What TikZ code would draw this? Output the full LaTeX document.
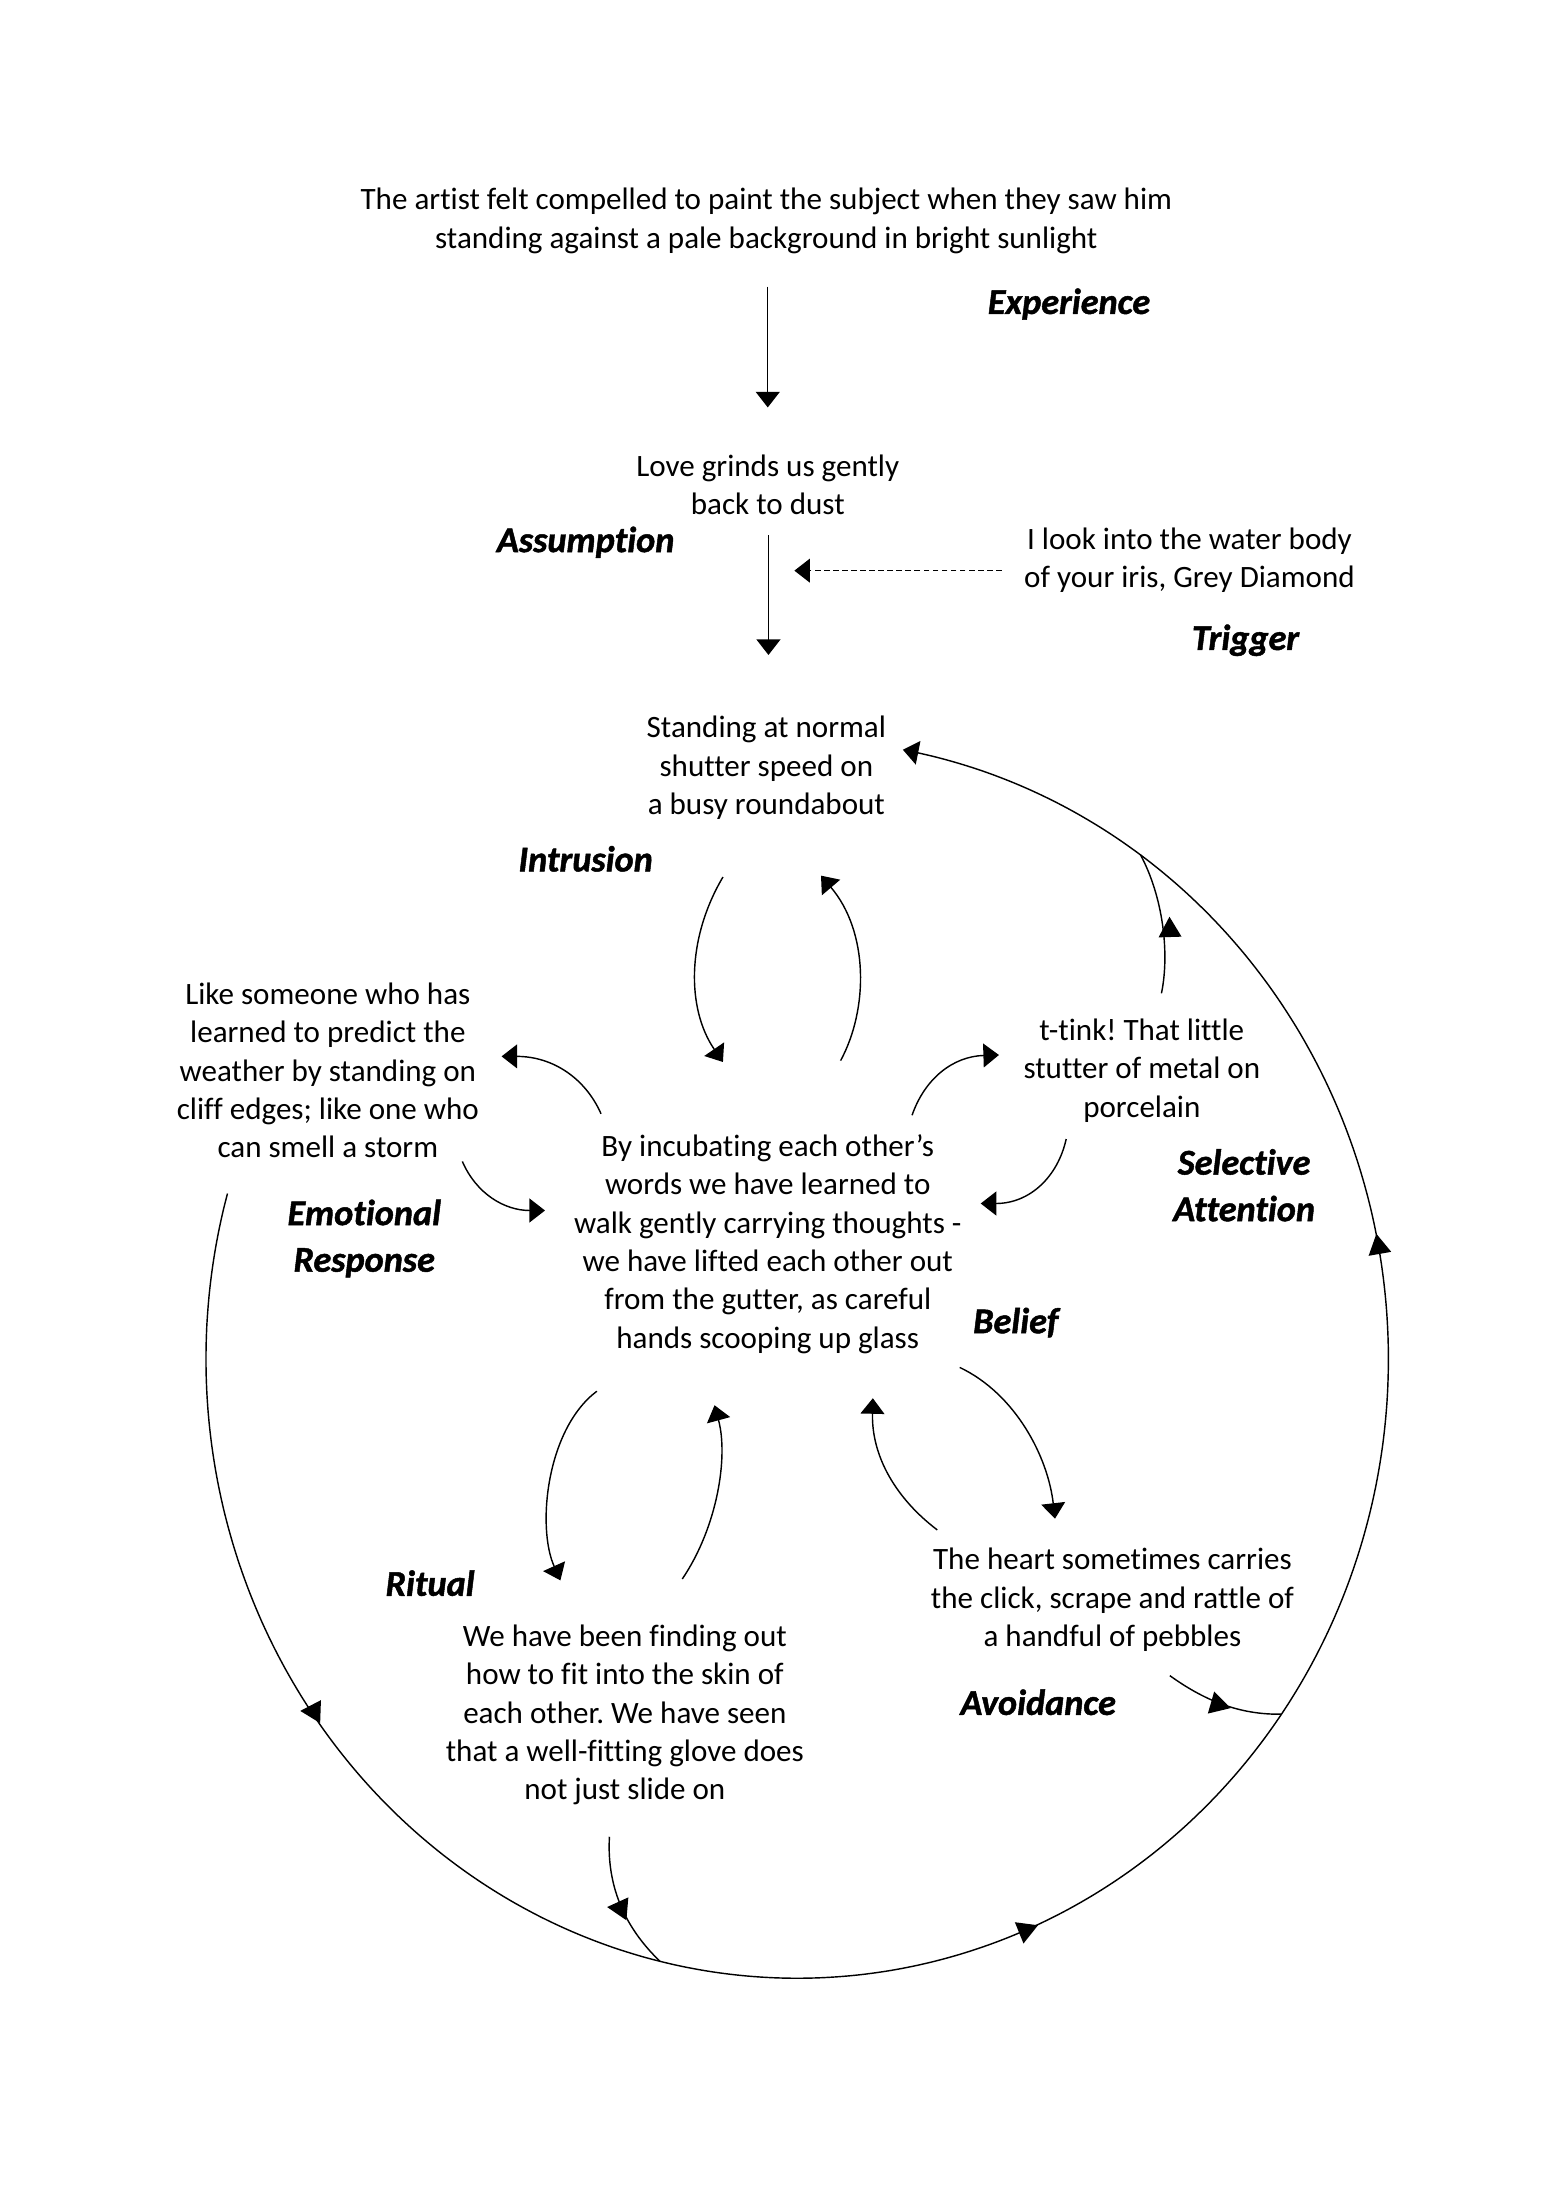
\documentclass[tikz,border=0pt]{standalone}
\usepackage{fontspec}
\setmainfont{Carlito}[Ligatures={NoCommon}]
\newfontfamily\lblfont{Carlito}[Ligatures={NoCommon}, BoldItalicFeatures={FakeBold=1.3}]
\frenchspacing
\usetikzlibrary{arrows.meta}
\tikzset{
  midtri/.pic={\fill (9.7,0) -- (-4.8,8.2) -- (-4.8,-8.2) -- cycle;},
  txt/.style={font=\fontsize{12}{14.8}\selectfont, align=center, inner sep=0pt},
  lbl/.style={font=\lblfont\fontsize{14}{18}\selectfont\bfseries\itshape, align=center, inner sep=0pt},
  ln/.style={line width=0.55pt, black},
  arr/.style={-{Triangle[length=6pt,width=9.2pt]}},
  rarr/.style={{Triangle[length=6pt,width=9.2pt]}-},
}
\begin{document}
\begin{tikzpicture}[x=0.5412pt,y=-0.5412pt]
\fill[white] (0,0) rectangle (1100,1561);
\useasboundingbox (0,0) rectangle (1100,1561);

% text nodes
\node[txt] (exp) at (547,157.6) {The artist felt compelled to paint the subject when they saw him\\standing against a pale background in bright sunlight};
\node[lbl] (explbl) at (763,217) {Experience};
\node[txt] (assume) at (548,346) {Love grinds us gently\\back to dust};
\node[lbl] (assumelbl) at (418,387) {Assumption};
\node[txt] (trig) at (849,400) {I look into the water body\\of your iris, Grey Diamond};
\node[lbl] (triglbl) at (889,457) {Trigger};
\node[txt] (intr) at (547,548) {Standing at normal\\shutter speed on\\a busy roundabout};
\node[lbl] (intrlbl) at (418,613) {Intrusion};
\node[txt] (emo) at (234,764) {Like someone who has\\learned to predict the\\weather by standing on\\cliff edges; like one who\\can smell a storm};
\node[lbl] (emolbl) at (260,884) {Emotional\\Response};
\node[txt] (sel) at (815,764) {t-tink! That little\\stutter of metal on\\porcelain};
\node[lbl] (sellbl) at (888,846) {Selective\\Attention};
\node[txt] (bel) at (548,888) {By incubating each other’s\\words we have learned to\\walk gently carrying thoughts -\\we have lifted each other out\\from the gutter, as careful\\hands scooping up glass};
\node[lbl] (bellbl) at (725,944) {Belief};
\node[txt] (rit) at (446,1224) {We have been finding out\\how to fit into the skin of\\each other. We have seen\\that a well-fitting glove does\\not just slide on};
\node[lbl] (ritlbl) at (307,1130) {Ritual};
\node[txt] (avo) at (794,1142) {The heart sometimes carries\\the click, scrape and rattle of\\a handful of pebbles};
\node[lbl] (avolbl) at (741,1215) {Avoidance};

% connector end points
\coordinate (a1s) at (548,204.6);   \coordinate (a1e) at (548,290.8);
\coordinate (a2s) at (548.5,382);   \coordinate (a2e) at (548.5,467.5);
\coordinate (ds) at (715,407.3);    \coordinate (de) at (567,407.3);
\coordinate (ib1s) at (516,626);    \coordinate (ib1e) at (516,758);
\coordinate (ib2s) at (600,757);    \coordinate (ib2e) at (586,625);
\coordinate (be1s) at (429,795);    \coordinate (be1e) at (358,754);
\coordinate (be2s) at (330,829);    \coordinate (be2e) at (389,864);
\coordinate (bs1s) at (651,796);    \coordinate (bs1e) at (713,753);
\coordinate (bs2s) at (761,813);    \coordinate (bs2e) at (700,859);
\coordinate (br1s) at (426,993);    \coordinate (br1e) at (400,1128);
\coordinate (br2s) at (487,1127);   \coordinate (br2e) at (510,1003);
\coordinate (ba1s) at (669,1092);   \coordinate (ba1e) at (623,998);
\coordinate (ba2s) at (685,976);    \coordinate (ba2e) at (753,1084);
\coordinate (sas) at (829,709);     \coordinate (saj) at (814.1,610.2);
\coordinate (avs) at (835,1196);    \coordinate (avj) at (914.7,1223.5);
\coordinate (rts) at (435,1311);    \coordinate (rtj) at (471.2,1400);

% straight arrows
\draw[ln,arr] (a1s) -- (a1e);
\draw[ln,arr] (a2s) -- (a2e);
\draw[ln,arr,dash pattern=on 2.2pt off 1.3pt] (ds) -- (de);

% intrusion <-> belief
\draw[ln,arr] (ib1s) .. controls (490,670) and (490,720) .. (ib1e);
\draw[ln,arr] (ib2s) .. controls (620,720) and (620,665) .. (ib2e);
% belief <-> emotional response
\draw[ln,arr] (be1s) .. controls (418,770) and (395,754) .. (be1e);
\draw[ln,arr] (be2s) .. controls (340,852) and (360,864) .. (be2e);
% belief <-> selective attention
\draw[ln,arr] (bs1s) .. controls (660,770) and (680,754) .. (bs1e);
\draw[ln,arr] (bs2s) .. controls (755,840) and (735,859) .. (bs2e);
% belief <-> ritual
\draw[ln,arr] (br1s) .. controls (390,1020) and (383,1090) .. (br1e);
\draw[ln,arr] (br2s) .. controls (512,1090) and (520,1040) .. (br2e);
% belief <-> avoidance
\draw[ln,arr] (ba1s) .. controls (640,1070) and (622,1040) .. (ba1e);
\draw[ln,arr] (ba2s) .. controls (725,995) and (748,1040) .. (ba2e);

% feeders to the outer loop
\draw[ln] (sas) .. controls (835,680) and (830,640) .. (saj);
\pic[rotate=91.7] at (835,664) {midtri};
\draw[ln] (avs) .. controls (860,1214) and (885,1224) .. (avj);
\pic[rotate=-16] at (869,1216.5) {midtri};
\draw[ln] (rts) .. controls (433,1345) and (445,1375) .. (rtj);
\pic[rotate=175] at (443,1362) {midtri};

% outer loop
\draw[ln] plot[domain=103.4:195.5, samples=60, smooth] ({569+422*cos(\x)},{970+442*sin(\x)});
\draw[ln] plot[domain=35:103.4, samples=50, smooth] ({569+422*cos(\x)},{970+442*sin(\x)});
\draw[ln,rarr] plot[domain=-79.7:35, samples=90, smooth] ({569+422*cos(\x)},{970+442*sin(\x)});
\pic[rotate=178] at (224,1221.5) {midtri};
\pic[rotate=22] at (731.9,1377.8) {midtri};
\pic[rotate=100] at (984.1,890.2) {midtri};
\end{tikzpicture}
\end{document}
